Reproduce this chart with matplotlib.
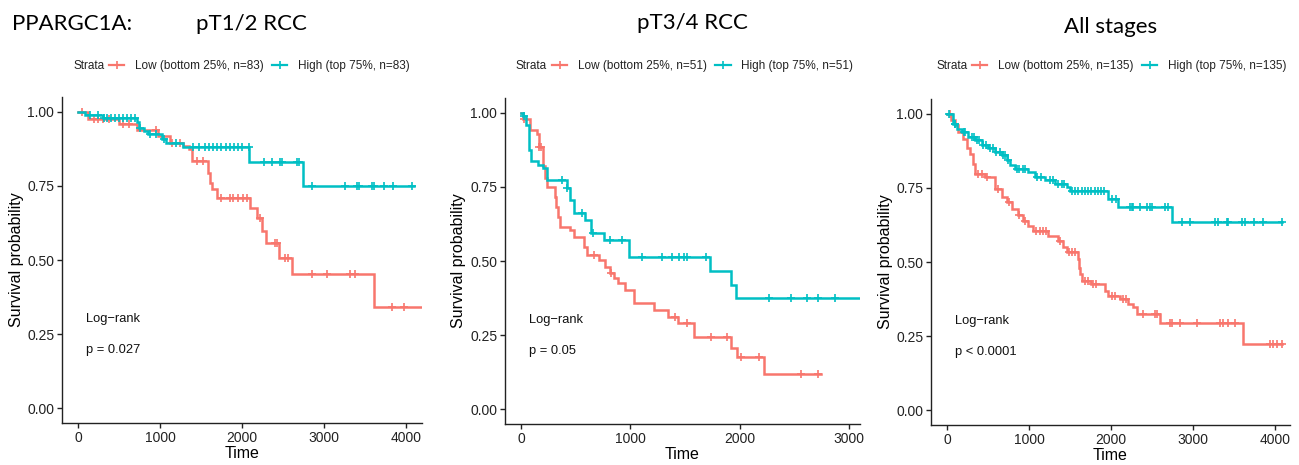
import matplotlib
matplotlib.use("Agg")
import matplotlib.pyplot as plt
from matplotlib.lines import Line2D
import numpy as np

# --- colours (ggplot defaults) ---
RED = "#F8766D"
TEAL = "#00BFC4"

# --- panel 1: pT1/2 RCC ---
p1_low_t = [0, 120, 505, 716, 975, 1120, 1280, 1350, 1390, 1585, 1610, 1640, 1690,
            2100, 2180, 2250, 2290, 2450, 2605, 3614]
p1_low_s = [1.00, 0.975, 0.96, 0.94, 0.92, 0.895, 0.884, 0.874, 0.834, 0.795, 0.76, 0.739, 0.71,
            0.677, 0.642, 0.598, 0.556, 0.508, 0.452, 0.341]
p1_low_end = 4196
p1_low_cens = [50, 200, 250, 300, 380, 550, 620, 950, 1150, 1250, 1450, 1530, 1750, 1850, 1896,
               1957, 2018, 2060, 2214, 2405, 2426, 2530, 2560, 2853, 3036, 3321, 3382, 3830, 3980]

p1_high_t = [0, 85, 300, 720, 740, 810, 860, 1022, 1070, 1286, 2090, 2748]
p1_high_s = [1.00, 0.988, 0.98, 0.965, 0.947, 0.936, 0.925, 0.908, 0.896, 0.881, 0.832, 0.751]
p1_high_end = 4094
p1_high_cens = [150, 250, 320, 350, 400, 450, 500, 550, 600, 650, 700, 760, 880, 950, 1050, 1200,
                1400, 1480, 1550, 1600, 1650, 1700, 1750, 1800, 1850, 1900, 1950, 2000, 2080,
                2263, 2365, 2466, 2487, 2670, 2690, 2853, 3260, 3403, 3422, 3586, 3606, 3736,
                3842, 4074]

# --- panel 2: pT3/4 RCC ---
p2_low_t = [0, 20, 83, 144, 165, 205, 220, 235, 306, 318, 336, 358, 450, 480, 572, 602, 709,
            771, 817, 847, 890, 953, 1029, 1218, 1340, 1432, 1581, 1917, 1979, 2223]
p2_low_s = [1.00, 0.98, 0.943, 0.93, 0.886, 0.819, 0.779, 0.751, 0.717, 0.683, 0.65, 0.616,
            0.605, 0.582, 0.548, 0.52, 0.503, 0.48, 0.458, 0.441, 0.425, 0.402, 0.357, 0.335,
            0.312, 0.29, 0.242, 0.205, 0.177, 0.118]
p2_low_end = 2743
p2_low_cens = [30, 168, 185, 663, 820, 1411, 1520, 1734, 1887, 2010, 2177, 2560, 2713]

p2_high_t = [0, 21, 49, 73, 92, 159, 205, 235, 419, 450, 480, 587, 642, 755, 991, 1728, 1917, 1963]
p2_high_s = [1.00, 0.99, 0.959, 0.875, 0.836, 0.825, 0.813, 0.774, 0.746, 0.706, 0.661, 0.639,
             0.594, 0.571, 0.515, 0.467, 0.419, 0.374]
p2_high_end = 3100
p2_high_cens = [30, 373, 419, 560, 661, 813, 920, 1107, 1291, 1383, 1443, 1489, 1520, 1688,
                2269, 2468, 2615, 2718, 2872]

# --- panel 3: All stages ---
p3_low_t = [0, 50, 94, 134, 196, 236, 277, 318, 338, 460, 582, 664, 725, 786, 867, 928, 989,
            1050, 1233, 1355, 1416, 1457, 1590, 1610, 1625, 1640, 1760, 1925, 1965, 2108, 2209,
            2270, 2311, 2596, 3613]
p3_low_s = [1.00, 0.98, 0.961, 0.939, 0.916, 0.883, 0.866, 0.832, 0.798, 0.787, 0.747, 0.719,
            0.702, 0.679, 0.657, 0.64, 0.623, 0.606, 0.589, 0.572, 0.55, 0.533, 0.51, 0.48,
            0.46, 0.437, 0.425, 0.403, 0.386, 0.375, 0.358, 0.347, 0.324, 0.293, 0.222]
p3_low_end = 4081
p3_low_cens = [30, 380, 420, 480, 620, 750, 880, 950, 1080, 1130, 1170, 1200, 1380, 1480, 1520,
               1560, 1680, 1720, 1780, 1820, 2005, 2046, 2150, 2180, 2392, 2535, 2555, 2718, 2738,
               2840, 3044, 3328, 3368, 3430, 3511, 3938, 3979, 4020, 4081]

p3_high_t = [0, 73, 114, 175, 256, 338, 420, 501, 582, 664, 725, 765, 826, 989, 1070, 1192,
             1314, 1457, 1497, 1965, 2087, 2746]
p3_high_s = [1.00, 0.967, 0.95, 0.939, 0.922, 0.911, 0.894, 0.883, 0.871, 0.86, 0.843, 0.826,
             0.815, 0.804, 0.787, 0.775, 0.764, 0.753, 0.741, 0.713, 0.685, 0.634]
p3_high_end = 4081
p3_high_cens = [20, 90, 100, 200, 220, 300, 320, 360, 390, 440, 470, 520, 560, 600, 640, 680, 700,
                740, 850, 880, 920, 950, 1100, 1150, 1250, 1290, 1350, 1400, 1430, 1520, 1560,
                1600, 1640, 1680, 1720, 1760, 1800, 1840, 1880, 1910, 2005, 2060, 2230, 2250,
                2270, 2352, 2433, 2474, 2494, 2657, 2697, 2860, 2962, 3267, 3307, 3410, 3430,
                3593, 3633, 3743, 3849, 4081]

titles = ["pT1/2 RCC", "pT3/4 RCC", "All stages"]
n_per_group = [83, 51, 135]
pvals = ["p = 0.027", "p = 0.05", "p < 0.0001"]

panels = [
    (p1_low_t, p1_low_s, p1_low_end, p1_low_cens, p1_high_t, p1_high_s, p1_high_end, p1_high_cens),
    (p2_low_t, p2_low_s, p2_low_end, p2_low_cens, p2_high_t, p2_high_s, p2_high_end, p2_high_cens),
    (p3_low_t, p3_low_s, p3_low_end, p3_low_cens, p3_high_t, p3_high_s, p3_high_end, p3_high_cens),
]

# layout in pixels (left, right, x-range)
W, H = 1299, 465
axes_px = [(62, 422, (-195, 4196)), (505, 860, (-147, 3100)), (931, 1290, (-199, 4184))]
axes_bottom = [423, 424, 425]
ylabel_x = [-0.125, -0.132, -0.128]
title_x = [251, 692, 1111]
title_base = [30, 29, 33]
legend_left = [73, 516, 936]

plt.rcParams["font.family"] = ["Liberation Sans", "DejaVu Sans"]
fig = plt.figure(figsize=(W / 100, H / 100), dpi=100)


def step_value(t, s, x):
    idx = np.searchsorted(np.asarray(t), np.asarray(x), side="right") - 1
    return np.asarray(s)[idx]


def km(ax, t, s, end, cens, color):
    tt = list(t) + [end]
    ss = list(s) + [s[-1]]
    ax.step(tt, ss, where="post", color=color, lw=1.8, solid_joinstyle="miter")
    ax.plot(cens, step_value(t, s, cens), ls="none", marker="+", ms=6, mew=1.2, color=color)


for i, (lt, ls_, le, lc, ht, hs, he, hc) in enumerate(panels):
    l, r, xr = axes_px[i]
    b = axes_bottom[i]
    ax = fig.add_axes([l / W, (H - b) / H, (r - l) / W, 326 / H])
    km(ax, lt, ls_, le, lc, RED)
    km(ax, ht, hs, he, hc, TEAL)
    ax.set_xlim(*xr)
    ax.set_ylim(-0.05, 1.05)
    ax.set_xticks(range(0, int(xr[1]) + 1, 1000))
    ax.set_yticks([0, 0.25, 0.5, 0.75, 1.0])
    ax.set_yticklabels(["0.00", "0.25", "0.50", "0.75", "1.00"])
    for sp in ["top", "right"]:
        ax.spines[sp].set_visible(False)
    for sp in ["left", "bottom"]:
        ax.spines[sp].set_linewidth(1.0)
        ax.spines[sp].set_color("#222222")
    ax.tick_params(length=3.5, width=1.0, color="#222222", labelsize=10, labelcolor="#222222", pad=2)
    ax.set_xlabel("Time", fontsize=11.5, labelpad=0)
    ax.set_ylabel("Survival probability", fontsize=11.5)
    ax.yaxis.label.set_verticalalignment("center")
    ax.yaxis.set_label_coords(ylabel_x[i], 0.5)
    ax.xaxis.set_label_coords(0.5, -0.07)
    ax.xaxis.label.set_verticalalignment("top")

    x0 = 0.022 * (xr[1] - xr[0])
    ax.text(x0, 0.30, "Log\u2212rank", fontsize=9.3, va="center", ha="left", color="#111111")
    ax.text(x0, 0.197, pvals[i], fontsize=9.3, va="center", ha="left", color="#111111")

    # legend row: "Strata" + two keys
    n = n_per_group[i]
    ly = 1 - 66 / H
    st = fig.text(legend_left[i] / W, ly, "Strata", fontsize=8.5, ha="left", va="center",
                  color="#222222")
    fig.canvas.draw()
    ext = st.get_window_extent()
    handles = [Line2D([], [], color=RED, lw=1.6, marker="+", ms=6, mew=1.2),
               Line2D([], [], color=TEAL, lw=1.6, marker="+", ms=6, mew=1.2)]
    labels = [f"Low (bottom 25%, n={n})", f"High (top 75%, n={n})"]
    leg = ax.legend(handles, labels, ncol=2, frameon=False, fontsize=8.5,
                    loc="center left", bbox_to_anchor=((ext.x1 + 5) / W, ly),
                    bbox_transform=fig.transFigure, handlelength=1.3, handletextpad=0.9,
                    columnspacing=0.7, borderpad=0, borderaxespad=0)
    for txt in leg.get_texts():
        txt.set_color("#222222")

    fig.text(title_x[i] / W, 1 - title_base[i] / H, titles[i], fontsize=16, ha="center",
             va="baseline", family=["Lato", "DejaVu Sans"])

fig.text(12 / W, 1 - 30 / H, "PPARGC1A:", fontsize=16, ha="left", va="baseline",
         family=["Lato", "DejaVu Sans"])

fig.savefig("out.png", dpi=100)
